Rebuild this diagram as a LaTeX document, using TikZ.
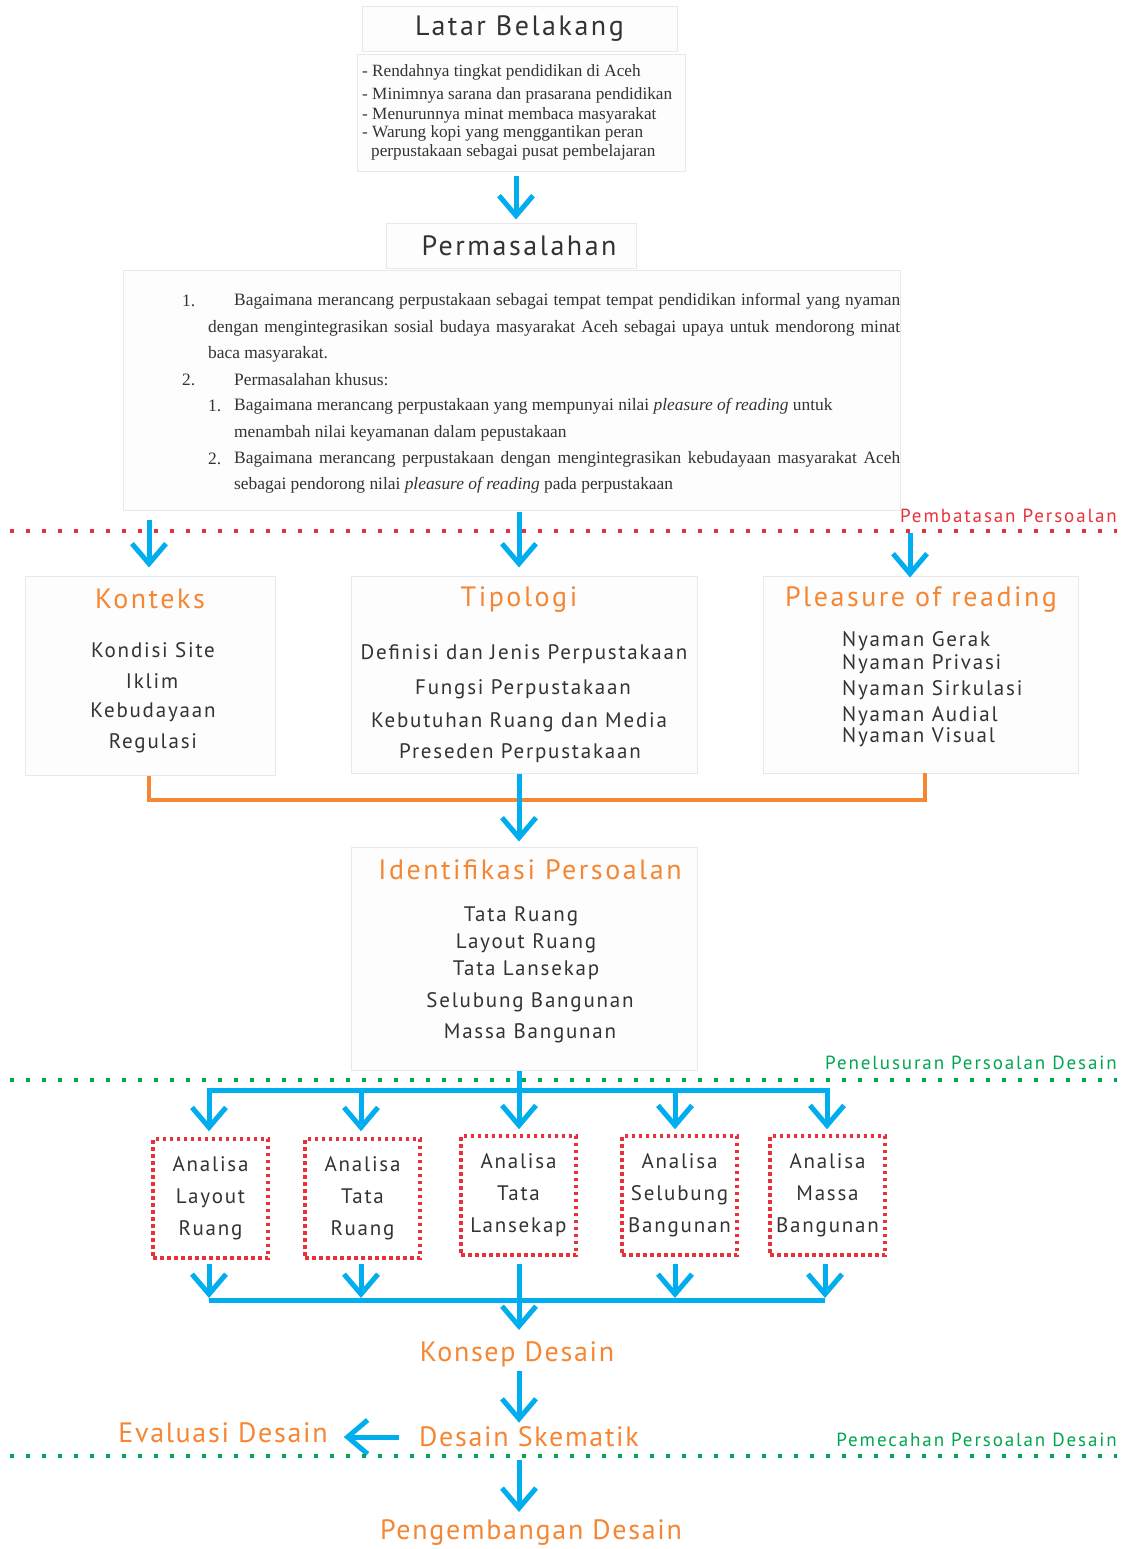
\documentclass[tikz,border=0pt]{standalone}
\usepackage{fontspec}
\setmainfont{Liberation Serif}
\newfontfamily\dinf[LetterSpace=8.5]{PT Sans}
\newfontfamily\dint[LetterSpace=9]{PT Sans}
\newfontfamily\dinb[LetterSpace=6]{PT Sans}
\newfontfamily\dinl[LetterSpace=10]{PT Sans}
\usetikzlibrary{arrows.meta}
\definecolor{cblue}{HTML}{00AEEF}
\definecolor{corange}{HTML}{F58634}
\definecolor{cred}{HTML}{E8313A}
\definecolor{cgreen}{HTML}{00A651}
\definecolor{ctext}{HTML}{333333}
\definecolor{bgray}{HTML}{E8E8E8}
\definecolor{bfill}{HTML}{FDFDFD}
\begin{document}
\begin{tikzpicture}[x=1pt,y=-1pt,
  box/.style={draw=bgray, fill=bfill, line width=1pt, inner sep=0pt},
  abox/.style={draw=cred, line width=3.5pt, dash pattern=on 3.5pt off 3.5pt, inner sep=0pt, minimum width=115pt, minimum height=119pt},
  ttl/.style={text=corange, font=\dint\fontsize{28}{32}\selectfont, inner sep=0pt},
  ttlb/.style={text=corange, font=\dinb\fontsize{28}{32}\selectfont, inner sep=0pt},
  head/.style={text=ctext, font=\dint\fontsize{28}{32}\selectfont, inner sep=0pt},
  itm/.style={text=ctext, font=\dinf\fontsize{21}{25}\selectfont, inner sep=0pt},
  lbl/.style={font=\dinl\fontsize{19}{22}\selectfont, inner sep=0pt, anchor=east},
  ser/.style={text=ctext, font=\fontsize{17.4}{19}\selectfont, inner sep=0pt, anchor=west},
  ser2/.style={text=ctext, font=\fontsize{17.2}{19}\selectfont, inner sep=0pt, anchor=west},
  barrow/.style={draw=cblue, line width=5pt, -{Straight Barb[length=20pt,width=34pt]}},
  bline/.style={draw=cblue, line width=5pt},
  oline/.style={draw=corange, line width=4pt},
  dotline/.style={line width=4pt, dash pattern=on 4pt off 12pt}
]
\useasboundingbox[fill=white] (0,0) rectangle (1127,1549);

% ---- Latar Belakang
\node[box, minimum width=315pt, minimum height=45pt] (lb) at (519.5,29.5) {};
\node[head] (lbt-t) at (519.5,29) {Latar Belakang};
\node[box, minimum width=328pt, minimum height=117pt] (lbt) at (521,113.5) {};
\node[ser2] at (362,72) {- Rendahnya tingkat pendidikan di Aceh};
\node[ser2] at (362,95) {- Minimnya sarana dan prasarana pendidikan};
\node[ser2] at (362,115) {- Menurunnya minat membaca masyarakat};
\node[ser2] at (362,133) {- Warung kopi yang menggantikan peran};
\node[ser2] at (371,152) {perpustakaan sebagai pusat pembelajaran};

% ---- Permasalahan
\node[box, minimum width=250pt, minimum height=45pt] (perm) at (511,245.5) {};
\node[head] at (519,246) {Permasalahan};
\node[box, minimum width=777pt, minimum height=240pt] (ptext) at (511.5,390) {};
\node[ser] at (182,301) {1.};
\node[ser] at (234,301) {\makebox[666pt][s]{Bagaimana merancang perpustakaan sebagai tempat tempat pendidikan informal yang nyaman}};
\node[ser] at (208,328) {\makebox[692pt][s]{dengan mengintegrasikan sosial budaya masyarakat Aceh sebagai upaya untuk mendorong minat}};
\node[ser] at (208,354) {baca masyarakat.};
\node[ser] at (182,380) {2.};
\node[ser] at (234,380) {Permasalahan khusus:};
\node[ser] at (208,406) {1.};
\node[ser] at (234,406) {Bagaimana merancang perpustakaan yang mempunyai nilai \textit{pleasure of reading} untuk};
\node[ser] at (234,433) {menambah nilai keyamanan dalam pepustakaan};
\node[ser] at (208,459) {2.};
\node[ser] at (234,459) {\makebox[666pt][s]{Bagaimana merancang perpustakaan dengan mengintegrasikan kebudayaan masyarakat Aceh}};
\node[ser] at (234,485) {sebagai pendorong nilai \textit{pleasure of reading} pada perpustakaan};

\draw[barrow] ([yshift=-4pt]lbt.south -| 516,0) -- ([yshift=3pt]perm.north -| 516,0);

% ---- Pembatasan
\draw[dotline, draw=cred] (10,531) -- (1117,531);
\node[lbl, text=cred] (pemb) at (1117,516) {Pembatasan Persoalan};

% ---- three boxes
\node[box, minimum width=250pt, minimum height=199pt] (kon) at (150,675.5) {};
\node[ttl] at (150,599) {Konteks};
\node[itm] at (153,650) {Kondisi Site};
\node[itm] at (152,681) {Iklim};
\node[itm] at (153,712) {Kebudayaan};
\node[itm] at (153,743) {Regulasi};

\node[box, minimum width=346pt, minimum height=197pt] (tip) at (524,674.5) {};
\node[ttl] at (519,600) {Tipologi};
\node[itm] at (524,654) {Definisi dan Jenis Perpustakaan};
\node[itm] at (523,689) {Fungsi Perpustakaan};
\node[itm] at (519,722) {Kebutuhan Ruang dan Media};
\node[itm] at (520,753) {Preseden Perpustakaan};

\node[box, minimum width=315pt, minimum height=197pt] (plr) at (920.5,674.5) {};
\node[ttl] at (921,600) {Pleasure of reading};
\node[itm, anchor=west] at (842,641) {Nyaman Gerak};
\node[itm, anchor=west] at (842,664) {Nyaman Privasi};
\node[itm, anchor=west] at (842,690) {Nyaman Sirkulasi};
\node[itm, anchor=west] at (842,716) {Nyaman Audial};
\node[itm, anchor=west] at (842,737) {Nyaman Visual};

\coordinate (s1) at (149,520);
\coordinate (s2) at (519,512);
\coordinate (s3) at (910,533);
\draw[barrow] (s1) -- ([yshift=8pt]s1 |- kon.north);
\draw[barrow] (s2) -- ([yshift=8pt]s2 |- tip.north);
\draw[barrow] (s3) -- ([yshift=-2pt]s3 |- plr.north);

% ---- Identifikasi
\node[box, minimum width=346pt, minimum height=223pt] (idf) at (524,958.5) {};
\node[ttl] at (530,870) {Identifikasi Persoalan};
\node[itm] at (521,916) {Tata Ruang};
\node[itm] at (526,943) {Layout Ruang};
\node[itm] at (526,970) {Tata Lansekap};
\node[itm] at (530,1002) {Selubung Bangunan};
\node[itm] at (530,1033) {Massa Bangunan};

% ---- orange bracket
\draw[oline] (kon.south -| 149,0) -- (149,800) -- (925,800) -- (925,773);
\draw[barrow] (tip.south -| 519,0) -- ([yshift=5pt]idf.north -| 519,0);

% ---- Penelusuran
\draw[dotline, draw=cgreen] (10,1080) -- (1117,1080);
\node[lbl, text=cgreen] at (1117,1063) {Penelusuran Persoalan Desain};

% ---- Analysis boxes
\node[abox, align=center, itm, text=ctext] (a1) at (210.5,1198.5) {Analisa\\[7pt]Layout\\[7pt]Ruang};
\node[abox, align=center, itm, text=ctext] (a2) at (362.5,1198.5) {Analisa\\[7pt]Tata\\[7pt]Ruang};
\node[abox, align=center, itm, text=ctext] (a3) at (518.5,1195.5) {Analisa\\[7pt]Tata\\[7pt]Lansekap};
\node[abox, align=center, itm, text=ctext] (a4) at (679.5,1195.5) {Analisa\\[7pt]Selubung\\[7pt]Bangunan};
\node[abox, align=center, itm, text=ctext] (a5) at (827.5,1195.5) {Analisa\\[7pt]Massa\\[7pt]Bangunan};

\draw[bline] (idf.south -| 519,0) -- (519,1090);
\draw[bline] (209,1090) -- (827,1090);
\draw[barrow] (209,1088) -- ([yshift=6pt]a1.north -| 209,0);
\draw[barrow] (361,1088) -- ([yshift=6pt]a2.north -| 361,0);
\draw[barrow] (519,1088) -- ([yshift=5pt]a3.north -| 519,0);
\draw[barrow] (675,1088) -- ([yshift=5pt]a4.north -| 675,0);
\draw[barrow] (827,1088) -- ([yshift=5pt]a5.north -| 827,0);

\draw[barrow] ([yshift=-4pt]a1.south -| 209,0) -- (209,1298);
\draw[barrow] ([yshift=-4pt]a2.south -| 361,0) -- (361,1298);
\draw[barrow] ([yshift=-7pt]a4.south -| 675,0) -- (675,1298);
\draw[barrow] ([yshift=-7pt]a5.south -| 825,0) -- (825,1298);
\draw[bline] (209,1300) -- (825,1300);

% ---- Konsep etc
\node[ttlb] (ks) at (517,1354) {Konsep Desain};
\draw[barrow] ([yshift=-7pt]a3.south -| 519,0) -- (519,1330);
\node[ttlb] (ds) at (529,1437) {Desain Skematik};
\node[ttlb] (ev) at (223,1433) {Evaluasi Desain};
\draw[barrow] ([yshift=-4pt]ks.south -| 519,0) -- ([yshift=4pt]ds.north -| 519,0);
\draw[barrow] ([xshift=-20pt]ds.west) -- ([xshift=16pt]ev.east |- ds.west);

\node[lbl, text=cgreen] at (1117,1440) {Pemecahan Persoalan Desain};
\draw[dotline, draw=cgreen] (10,1456) -- (1117,1456);
\node[ttlb] (pd) at (531,1533) {Pengembangan Desain};
\draw[barrow] (519,1460) -- ([yshift=8pt]pd.north -| 519,0);
\end{tikzpicture}
\end{document}
